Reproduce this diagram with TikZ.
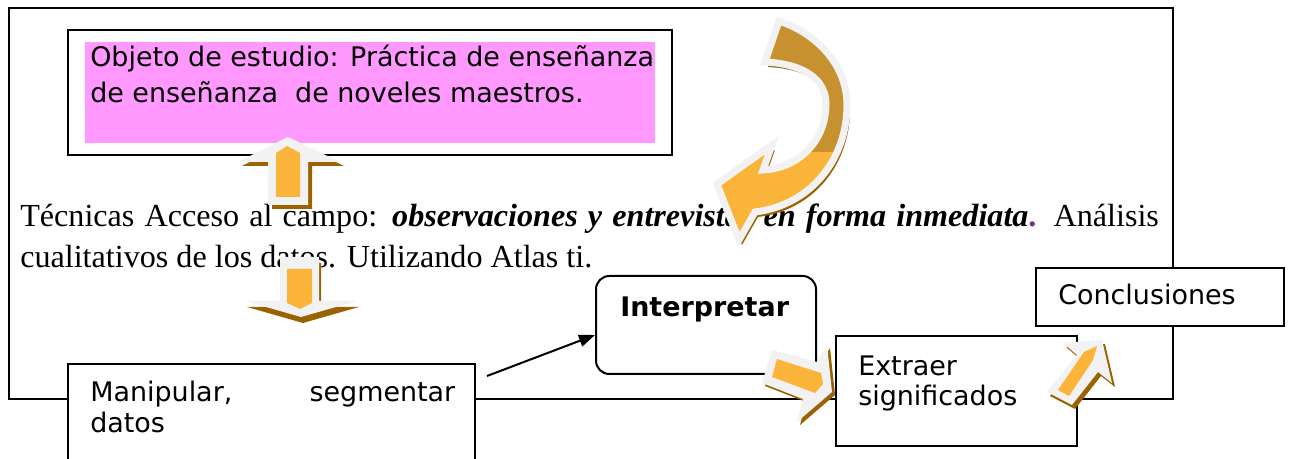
\documentclass[tikz,border=0pt]{standalone}
\usepackage{fontspec}
\setmainfont{Liberation Serif}
\newfontfamily\boxfont{DejaVu Sans}
\usetikzlibrary{arrows.meta}
\definecolor{pinkfill}{HTML}{FF99FF}
\definecolor{arrorange}{HTML}{FAB43A}
\definecolor{arrgold}{HTML}{C8912F}
\definecolor{arrshadow}{HTML}{9A6200}
\definecolor{arrwhite}{HTML}{F2F2F2}
\definecolor{dotpurple}{HTML}{7030A0}
\newcommand\curvedpath{(779,21) .. controls (818,34) and (847,66) .. (847,105) .. controls (847,158) and (812,205) .. (755,212) -- (739,240) -- (717,184) -- (772,145) -- (763,170) .. controls (800,168) and (826,140) .. (826,104) .. controls (826,80) and (805,64) .. (765,62) -- cycle}
\begin{document}
\begin{tikzpicture}[x=0.75pt,y=-0.75pt,
  boxnode/.style={draw=black,line width=1.5pt,fill=white,anchor=north west,inner sep=0pt,outer sep=0pt},
  lbl/.style={anchor=base west,inner sep=0pt,font=\boxfont\fontsize{20.2}{24}\selectfont},
  serif/.style={anchor=base west,inner sep=0pt,font=\fontsize{24.1}{27}\selectfont},
  shadowfill/.style={fill=arrshadow},
  whitefill/.style={fill=arrwhite},
  orangefill/.style={fill=arrorange},
  linkarrow/.style={draw=black,line width=1.5pt,-{Triangle[length=12pt,width=9pt]}}
]
\useasboundingbox (0,0) rectangle (1290,459);
\clip (0,0) rectangle (1290,459);
\fill[white] (0,0) rectangle (1290,459);

% outer frame
\node[draw=black,line width=1.5pt,anchor=north west,inner sep=0pt,minimum width=873pt,minimum height=293.25pt] (outer) at (8,7) {};

% paragraph text
\node[serif] (tline1) at (20,227) {\makebox[854pt][s]{Técnicas Acceso al campo: \textbf{\textit{observaciones y entrevistas en forma inmediata}}\textbf{\textcolor{dotpurple}{.}} Análisis}};
\node[serif] (tline2) at (20,268) {cualitativos de los datos. Utilizando Atlas ti.};

% top box
\node[boxnode,minimum width=453pt,minimum height=93.75pt] (objbox) at (68,30) {};
\node[fill=pinkfill,anchor=north west,inner sep=0pt,minimum width=427.5pt,minimum height=75.75pt] (objfill) at (85,42) {};
\node[lbl] (obj1) at (90,67) {Objeto de estudio: Práctica de enseñanza};
\node[lbl] (obj2) at (90,103) {de enseñanza\ \ de noveles maestros.};

% other boxes
\node[boxnode,rounded corners=10pt,minimum width=165pt,minimum height=73.5pt] (interp) at (596,276) {};
\node[lbl,font=\boxfont\bfseries\fontsize{20.2}{24}\selectfont] (interptxt) at (620,317) {Interpretar};
\node[boxnode,minimum width=186pt,minimum height=43.5pt] (concl) at (1036,268) {};
\node[lbl] (concltxt) at (1058,305) {Conclusiones};
\node[boxnode,minimum width=180.75pt,minimum height=82.5pt] (extr) at (836,336) {};
\node[lbl] (extr1) at (858,376) {Extraer};
\node[lbl] (extr2) at (858,406) {significados};
\node[boxnode,minimum width=305.25pt,minimum height=82.5pt] (manip) at (68,364) {};
\node[lbl] (manip1) at (90,402) {\makebox[273.75pt]{Manipular,\hfill segmentar}};
\node[lbl] (manip2) at (90,433) {datos};

% black connector
\coordinate (linkstart) at (487,376);
\coordinate (linkend) at (595,335);
\draw[linkarrow] (linkstart) -- (linkend);

% up block arrow
\fill[shadowfill,shift={(4,4)}] (288,137) -- (340,162) -- (308,162) -- (308,205) -- (268,205) -- (268,162) -- (238,162) -- cycle;
\fill[whitefill] (288,137) -- (340,162) -- (308,162) -- (308,205) -- (268,205) -- (268,162) -- (238,162) -- cycle;
\fill[orangefill] (287,146) -- (300,153) -- (300,197) -- (276,197) -- (276,153) -- cycle;

% down block arrow
\fill[shadowfill,shift={(2,6)}] (280,257) -- (319,257) -- (319,301) -- (357,301) -- (301,317) -- (245,301) -- (280,301) -- cycle;
\fill[whitefill] (280,257) -- (319,257) -- (319,301) -- (357,301) -- (301,317) -- (245,301) -- (280,301) -- cycle;
\fill[orangefill] (287,269) -- (312,269) -- (312,303) -- (300,309) -- (287,303) -- cycle;

% right block arrow 1
\fill[shadowfill,shift={(3,3)}] (772,350) -- (817,362) -- (827,345) -- (832,392) -- (797,422) -- (803,399) -- (762,383) -- cycle;
\fill[whitefill] (772,350) -- (817,362) -- (827,345) -- (832,392) -- (797,422) -- (803,399) -- (762,383) -- cycle;
\fill[orangefill] (777,359) -- (821,373) -- (823,384) -- (815,393) -- (772,377) -- cycle;

% right block arrow 2
\fill[shadowfill,shift={(3,4)}] (1047,392) -- (1072,405) -- (1098,372) -- (1112,383) -- (1102,340) -- (1063,343) -- (1077,355) -- cycle;
\fill[whitefill] (1047,392) -- (1072,405) -- (1098,372) -- (1112,383) -- (1102,340) -- (1063,343) -- (1077,355) -- cycle;
\fill[orangefill] (1058,390) -- (1084,352) -- (1097,346) -- (1093,360) -- (1069,396) -- cycle;

% curved arrow
\fill[shadowfill,shift={(3,5)}] \curvedpath;
\fill[arrgold] \curvedpath;
\begin{scope}
\clip (0,153) rectangle (1290,459);
\fill[orangefill] \curvedpath;
\end{scope}
\draw[draw=arrwhite,line width=5.25pt] \curvedpath;
\end{tikzpicture}
\end{document}
